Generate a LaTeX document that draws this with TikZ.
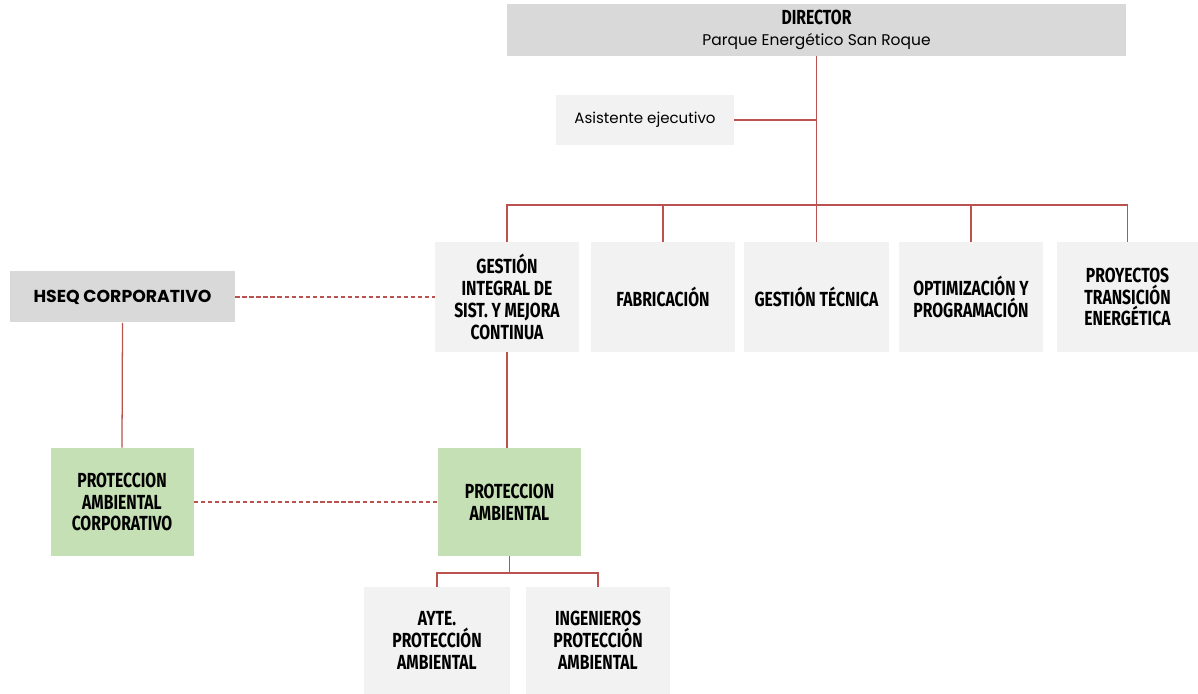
\documentclass[tikz,border=0pt]{standalone}
\usepackage{fontspec}
\setmainfont{Poppins}
\newfontfamily\condfont[FakeStretch=0.77]{Fira Sans}
\usepackage{xcolor}
\definecolor{LinkRed}{RGB}{186,82,80}
\definecolor{BoxGray}{RGB}{242,242,242}
\definecolor{HeadGray}{RGB}{217,217,217}
\definecolor{BoxGreen}{RGB}{197,224,180}
\usepackage{tikz}
\usetikzlibrary{math}
\newcommand*{\px}{0.025cm}
\tikzset{%
  pixels/.style={x={(\px,0)},y={(0,-\px)}},
  unit/.style 2 args={fill=BoxGray, align=center, inner sep=0pt,
    minimum width=#1*\px, minimum height=#2*\px,
    font=\condfont\bfseries\fontsize{14.5}{15.5}\selectfont},
  head/.style={fill=HeadGray},
  green/.style={fill=BoxGreen},
  link/.style={draw=LinkRed, line width=0.9pt},
  dotlink/.style={link, dash pattern=on 3pt off 2pt}
}

\begin{document}
\begin{tikzpicture}[pixels]
    \tikzmath{
      \busA=205;% bus under the director
      \busB=573;% bus under protección ambiental
      \rowA=297;% middle of the first row
      \rowB=502;% middle of the green row
    }
    \useasboundingbox (0,0) rectangle (1198,694);
    % Director and assistant.
    \node[unit={619}{52}, head, font=\fontsize{11}{15}\selectfont] (director) at (816.5,30)
      {{\condfont\bfseries\fontsize{14.5}{15}\selectfont DIRECTOR}\\Parque Energético San Roque};
    \node[unit={178}{50}, font=\fontsize{10.7}{13}\selectfont] (asistente) at (645,120) {Asistente ejecutivo};
    % First row.
    \node[unit={144}{110}] (gestion) at (507,\rowA) {GESTIÓN\\INTEGRAL DE\\SIST. Y MEJORA\\CONTINUA};
    \node[unit={144}{110}] (fabricacion) at (663,\rowA) {FABRICACIÓN};
    \node[unit={145}{110}] (tecnica) at (816.5,\rowA) {GESTIÓN TÉCNICA};
    \node[unit={144}{110}] (optimizacion) at (971,\rowA) {OPTIMIZACIÓN Y\\PROGRAMACIÓN};
    \node[unit={141}{110}] (proyectos) at (1127.5,\rowA) {PROYECTOS\\TRANSICIÓN\\ENERGÉTICA};
    \node[unit={225}{51}, head, font=\bfseries\fontsize{12.3}{14}\selectfont] (hseq) at (122.5,\rowA) {HSEQ CORPORATIVO};
    % Green row.
    \node[unit={143}{108}, green] (corp) at (122,\rowB) {PROTECCION\\AMBIENTAL\\CORPORATIVO};
    \node[unit={143}{108}, green] (prot) at (509.5,\rowB) {PROTECCION\\AMBIENTAL};
    % Bottom row.
    \node[unit={146}{107}] (ayte) at (437,640.5) {AYTE.\\PROTECCIÓN\\AMBIENTAL};
    \node[unit={144}{107}] (ingenieros) at (598,640.5) {INGENIEROS\\PROTECCIÓN\\AMBIENTAL};
    % Connectors.
    \coordinate (hub) at (director.south |- 0,\busA);
    \draw[link] (director.south) -- (hub);
    \draw[link] (asistente.east) -- (asistente.east -| hub);
    \draw[link] (gestion.north) |- (hub) -| (proyectos.north);
    \foreach \n in {fabricacion,tecnica,optimizacion}
      \draw[link] (\n.north) -- (\n.north |- hub);
    \draw[dotlink] (hseq.east) -- (hseq.east -| gestion.west);
    \draw[link] (hseq.south) -- (corp.north);
    \draw[link] (gestion.south) -- (gestion.south |- prot.north);
    \draw[dotlink] (corp.east) -- (prot.west);
    \coordinate (hub2) at (prot.south |- 0,\busB);
    \draw[link] (prot.south) -- (hub2);
    \draw[link] (ayte.north) |- (hub2) -| (ingenieros.north);
\end{tikzpicture}
\end{document}
